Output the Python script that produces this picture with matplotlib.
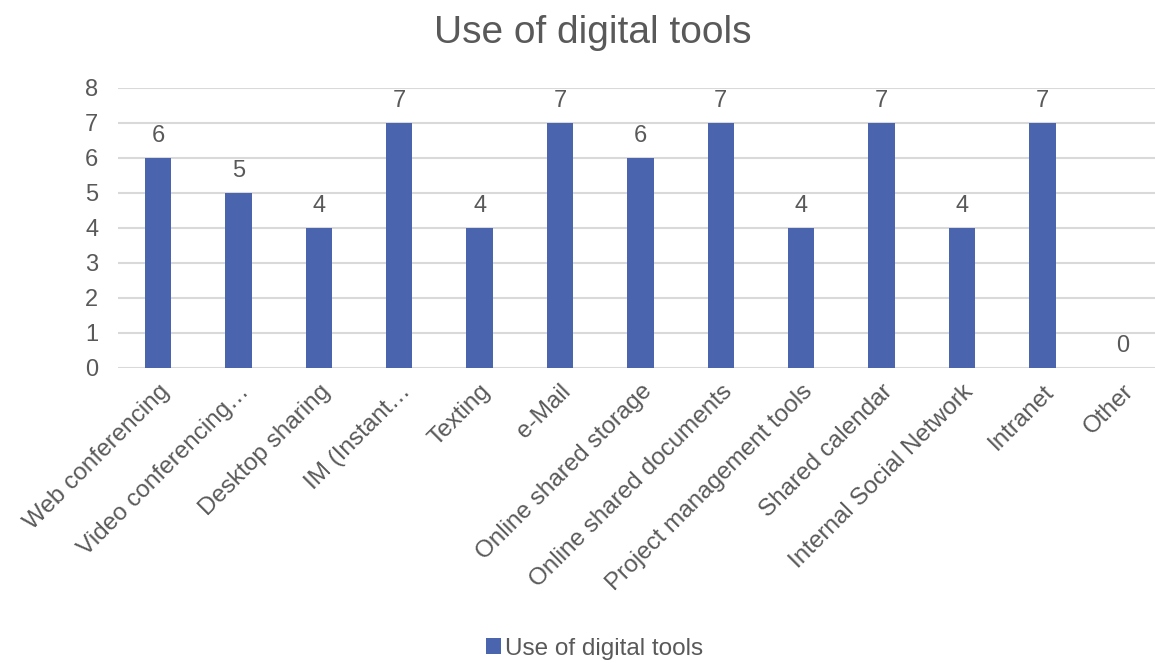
import matplotlib.pyplot as plt
import numpy as np

plt.rcParams['font.family'] = ['Liberation Sans', 'DejaVu Sans']

categories = ['Web conferencing', 'Video conferencing\u2026', 'Desktop sharing',
              'IM (Instant\u2026', 'Texting', 'e-Mail', 'Online shared storage',
              'Online shared documents', 'Project management tools',
              'Shared calendar', 'Internal Social Network', 'Intranet', 'Other']
values = [6, 5, 4, 7, 4, 7, 6, 7, 4, 7, 4, 7, 0]

bar_color = '#4A65AE'
text_color = '#595959'
grid_color = '#D9D9D9'

fig = plt.figure(figsize=(11.55, 6.63), dpi=100)
ax = fig.add_axes([0.102, 0.445, 0.898, 0.4223])

x = np.arange(len(categories))
bars = ax.bar(x, values, width=0.33, color=bar_color, label='Use of digital tools', zorder=3)

for xi, v in zip(x, values):
    ax.text(xi, v + 0.3, str(v), ha='center', va='bottom', fontsize=17, color=text_color)

ax.set_xlim(-0.5, 12.4)
ax.set_ylim(0, 8)
ax.set_yticks(range(0, 9))
ax.yaxis.grid(True, color=grid_color, linewidth=1.5, zorder=0)
ax.set_axisbelow(True)
for s in ax.spines.values():
    s.set_visible(False)
ax.tick_params(axis='both', length=0, labelsize=17, labelcolor=text_color)
ax.tick_params(axis='y', pad=14)

ax.set_xticks(x)
ax.set_xticklabels(categories, rotation=45, ha='right', va='top', rotation_mode='anchor',
                   fontsize=17.5)
ax.tick_params(axis='x', pad=9)

fig.suptitle('Use of digital tools', fontsize=28, color=text_color, x=0.513, y=0.978)

fig.legend(handles=[bars], labels=['Use of digital tools'], loc='lower center',
           bbox_to_anchor=(0.515, -0.028), frameon=False, fontsize=17.5,
           labelcolor=text_color, handlelength=0.6, handleheight=0.6, handletextpad=0.2)

fig.savefig('out.png', dpi=100)
